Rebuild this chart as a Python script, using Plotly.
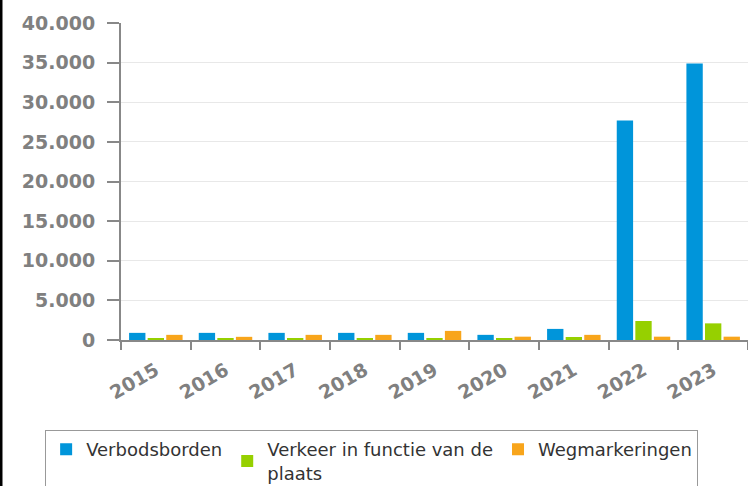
import plotly.graph_objects as go

years = ["2015", "2016", "2017", "2018", "2019", "2020", "2021", "2022", "2023"]
verbodsborden = [900, 900, 900, 900, 900, 650, 1400, 27700, 34900]
verkeer_plaats = [150, 150, 150, 150, 150, 150, 380, 2400, 2100]
wegmarkeringen = [650, 400, 650, 650, 1150, 420, 650, 420, 420]

series_names = ["Verbodsborden", "Verkeer in functie van de<br>plaats", "Wegmarkeringen"]
colors = ["#0095da", "#96d000", "#f8a51b"]

fig = go.Figure()
for name, vals, col in zip(series_names, [verbodsborden, verkeer_plaats, wegmarkeringen], colors):
    fig.add_trace(go.Bar(x=years, y=vals, name=name, marker=dict(color=col, line=dict(width=0))))

fig.update_layout(
    width=748, height=486,
    margin=dict(l=121, r=0, t=23, b=146, autoexpand=False),
    paper_bgcolor="white", plot_bgcolor="white",
    barmode="group", bargap=0.2, bargroupgap=0.12,
    separators=",.",
    showlegend=True,
    legend=dict(orientation="h", x=-0.121, xanchor="left", y=-0.284, yanchor="top",
                bordercolor="#999999", borderwidth=1,
                font=dict(family="DejaVu Sans", size=18, color="#333333"),
                traceorder="normal"),
    font=dict(family="DejaVu Sans"),
)
fig.update_yaxes(range=[0, 40000], tickvals=[0, 5000, 10000, 15000, 20000, 25000, 30000, 35000, 40000],
                 tickformat=",d", showgrid=True, gridcolor="#e8e8e8", gridwidth=1,
                 showline=True, linecolor="#888888", linewidth=2,
                 ticks="outside", ticklen=12, tickcolor="#888888", tickwidth=2,
                 ticklabelstandoff=8, automargin=False,
                 tickfont=dict(family="DejaVu Sans", size=19, color="#808080", weight="bold"),
                 zeroline=False)
fig.update_xaxes(showline=True, linecolor="#888888", linewidth=2,
                 ticks="outside", tickson="boundaries", ticklen=8, tickcolor="#888888", tickwidth=2,
                 tickangle=-30, ticklabelstandoff=10, automargin=False,
                 tickfont=dict(family="DejaVu Sans", size=19, color="#808080", weight="bold"))

fig.add_shape(type="line", xref="paper", yref="paper",
              x0=-0.1914, x1=-0.1914, y0=-0.5, y1=1.1,
              line=dict(color="black", width=3))

fig.write_html("out.html", config={"displayModeBar": False},
               post_script="document.body.style.margin='0';document.body.style.overflow='hidden';")
